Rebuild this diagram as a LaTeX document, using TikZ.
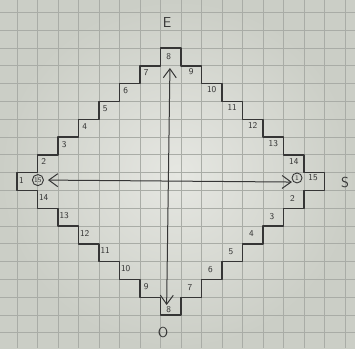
\documentclass[tikz,border=0pt]{standalone}
\usetikzlibrary{arrows.meta}
\definecolor{paper}{HTML}{CBCEC6}
\definecolor{paperlight}{HTML}{E6E7E2}
\definecolor{gridline}{HTML}{A9ACA6}
\definecolor{pencil}{HTML}{353535}
\tikzset{
  cellnum/.style={font=\sffamily\small, text=pencil, inner sep=0pt},
  compass/.style={font=\sffamily\Large, text=pencil},
  ring/.style={draw=pencil, circle, line width=0.9pt, inner sep=0.8pt, minimum size=10pt, font=\sffamily\scriptsize, text=pencil},
  stairs/.style={draw=pencil, line width=1.4pt, line join=round},
  axis/.style={draw=pencil, line width=1pt, {Straight Barb[length=9pt,width=13pt]}-{Straight Barb[length=9pt,width=13pt]}}
}
\begin{document}
\begin{tikzpicture}[x=20.5pt, y=-17.8pt]
\useasboundingbox (-0.829,-2.697) rectangle (16.488,16.854);
\shade[inner color=paperlight, outer color=paper] (-0.829,-2.697) rectangle (16.488,16.854);
\foreach \i in {0,...,16} \draw[gridline, line width=0.7pt] (\i,-2.697) -- (\i,16.854);
\foreach \j in {-2,...,16} \draw[gridline, line width=0.7pt] (-0.829,\j) -- (16.488,\j);

\draw[stairs] (7,1) \foreach \i in {1,...,7} { -| ({7-\i},{\i+1}) }
  \foreach \i in {1,...,7} { -| (\i,{8+\i}) } -- (8,15)
  \foreach \i in {1,...,7} { |- ({8+\i},{15-\i}) }
  \foreach \i in {1,...,7} { |- ({15-\i},{8-\i}) } |- (7,0) -- cycle;

\node[cellnum] (top8) at (7.4,0.5) {8};
\node[cellnum] (bot8) at (7.4,14.7) {8};
\foreach \c [evaluate=\c as \n using int(\c+1)] in {1,...,6}
  \node[cellnum] (ul\c) at ({\c+0.3},{7-\c+0.4}) {\n};
\foreach \r [evaluate=\r as \n using int(\r+8)] in {1,...,6}
  \node[cellnum] (ur\r) at ({7+\r+0.5},{\r+0.35}) {\n};
\foreach \c [evaluate=\c as \n using int(15-\c)] in {1,...,6}
  \node[cellnum] (ll\c) at ({\c+0.3},{7+\c+0.4}) {\n};
\foreach \j [evaluate=\j as \n using int(\j+1)] in {1,...,6}
  \node[cellnum] (lr\j) at ({14-\j+0.43},{7+\j+0.45}) {\n};

\node[cellnum] (tipwest) at (0.22,7.42) {1};
\node[ring] (ringwest) at (1.02,7.42) {15};
\node[ring] (ringeast) at (13.66,7.3) {1};
\node[cellnum] (tipeast) at (14.44,7.3) {15};

\node[compass] (east) at (7.32,-1.46) {E};
\node[compass] (south) at (16.0,7.53) {S};
\node[compass] (west) at (7.12,15.96) {O};

\coordinate (up) at (7.46,1.12);
\coordinate (down) at (7.3,14.44);
\coordinate (left) at (1.51,7.42);
\coordinate (right) at (13.41,7.53);
\draw[axis] (up) -- (down);
\draw[axis] (left) -- (right);
\end{tikzpicture}
\end{document}
